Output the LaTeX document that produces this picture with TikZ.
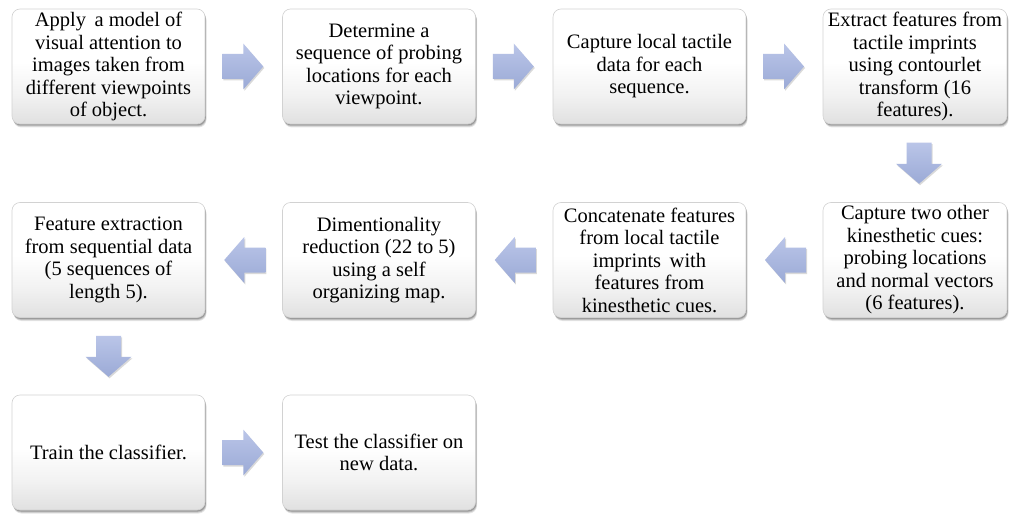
\documentclass[tikz,border=0pt]{standalone}
\usepackage{fontspec}
\setmainfont{Liberation Serif}
\usetikzlibrary{calc,shadows}
\definecolor{arrtop}{RGB}{186,197,232}
\definecolor{arrbot}{RGB}{155,170,214}
\pgfdeclareverticalshading{boxshade}{100bp}{color(0bp)=(gray!24); color(25bp)=(gray!24); color(38bp)=(gray!10); color(52bp)=(white); color(100bp)=(white)}
\tikzset{
  stepbox/.style={rounded corners=8pt, draw=gray!35, line width=0.6pt,
    shading=boxshade,
    drop shadow={shadow xshift=1.5pt, shadow yshift=-3.5pt, opacity=0.10, fill=black},
    drop shadow={shadow xshift=1.2pt, shadow yshift=-2.5pt, opacity=0.15, fill=black},
    drop shadow={shadow xshift=0.8pt, shadow yshift=-1.5pt, opacity=0.20, fill=black},
    align=center, inner sep=2pt,
    font=\fontsize{20.5}{22.5}\selectfont, text=black},
  wbox/.style={stepbox, minimum width=193pt, minimum height=115pt},
  nbox/.style={stepbox, minimum width=184pt, minimum height=115pt},
  blockarrow/.style={top color=arrtop, bottom color=arrbot, draw=none,
    drop shadow={shadow xshift=1pt, shadow yshift=-1.5pt, opacity=0.15, fill=black}},
}
\newcommand{\barrow}[2]{% #1 = named centre, #2 = rotation
  \begin{scope}[shift={(#1)}, rotate=#2]
    \path[blockarrow] (-20.5,-12.5) -- (0.5,-12.5) -- (0.5,-23) -- (20.5,0) -- (0.5,23) -- (0.5,12.5) -- (-20.5,12.5) -- cycle;
  \end{scope}}
\begin{document}
\begin{tikzpicture}[x=1pt,y=-1pt]
\useasboundingbox[fill=white] (0,0) rectangle (1009,516);
% row 1
\node[wbox] (b1) at (108.5,66.5) {Apply\, a model of\\visual attention to\\images taken from\\different viewpoints\\of object.};
\node[wbox] (b2) at (379,66.5) {Determine a\\sequence of probing\\locations for each\\viewpoint.};
\node[wbox] (b3) at (649.5,66.5) {Capture local tactile\\data for each\\sequence.};
\node[nbox] (b4) at (915,66.5) {Extract features from\\tactile imprints\\using contourlet\\transform (16\\features).};
% row 2
\node[nbox] (b5) at (915,260) {Capture two other\\kinesthetic cues:\\probing locations\\and normal vectors\\(6 features).};
\node[wbox] (b6) at (649.5,260) {Concatenate features\\from local tactile\\imprints\, with\\features from\\kinesthetic cues.};
\node[wbox] (b7) at (379,260) {Dimentionality\\reduction (22 to 5)\\using a self\\organizing map.};
\node[wbox] (b8) at (108.5,260) {Feature extraction\\from sequential data\\(5 sequences of\\length 5).};
% row 3
\node[wbox] (b9) at (108.5,452.5) {Train the classifier.};
\node[wbox] (b10) at (379,452.5) {Test the classifier on\\new data.};
% arrows
\coordinate (a1) at ($(b1.east)!0.5!(b2.west)+(-1,0)$);
\coordinate (a2) at ($(b2.east)!0.5!(b3.west)+(-1,0)$);
\coordinate (a3) at ($(b3.east)!0.5!(b4.west)+(-1,0)$);
\coordinate (a4) at ($(b4.south)!0.5!(b5.north)+(4,0)$);
\coordinate (a5) at ($(b5.west)!0.5!(b6.east)+(1,0)$);
\coordinate (a6) at ($(b6.west)!0.5!(b7.east)+(1,0)$);
\coordinate (a7) at ($(b7.west)!0.5!(b8.east)+(1,0)$);
\coordinate (a8) at ($(b8.south)!0.5!(b9.north)$);
\coordinate (a9) at ($(b9.east)!0.5!(b10.west)+(-1,0)$);
\barrow{a1}{0}
\barrow{a2}{0}
\barrow{a3}{0}
\barrow{a4}{-90}
\barrow{a5}{180}
\barrow{a6}{180}
\barrow{a7}{180}
\barrow{a8}{-90}
\barrow{a9}{0}
\end{tikzpicture}
\end{document}
